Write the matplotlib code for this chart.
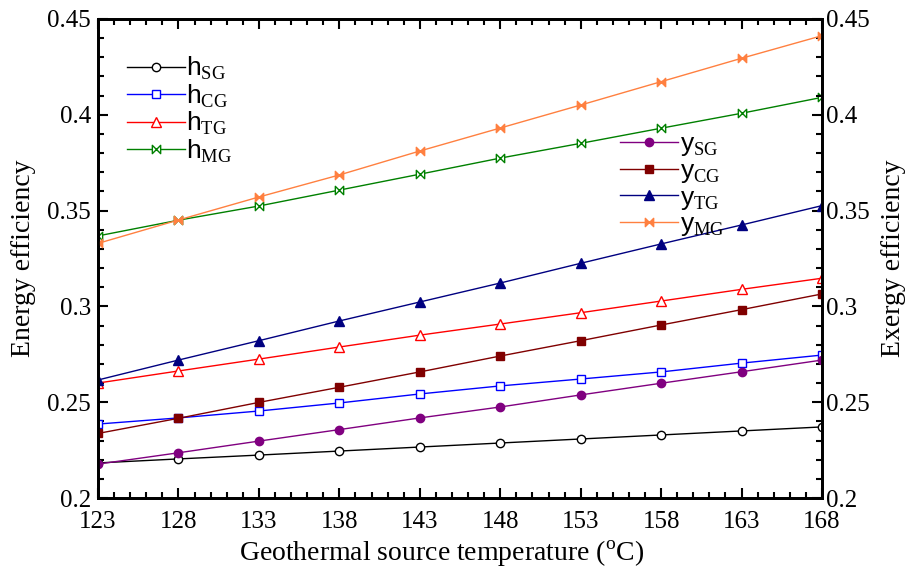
import matplotlib.pyplot as plt
import numpy as np
from matplotlib.path import Path
from matplotlib.ticker import MultipleLocator, FixedLocator

plt.rcParams['font.family'] = 'Liberation Serif'
plt.rcParams['mathtext.fontset'] = 'custom'
plt.rcParams['mathtext.rm'] = 'Liberation Serif'
plt.rcParams['mathtext.sf'] = 'Liberation Sans'

temps = [123, 128, 133, 138, 143, 148, 153, 158, 163, 168]

# energy efficiency per cycle
eta_sg = [0.2183, 0.2204, 0.2224, 0.2245, 0.2266, 0.2287, 0.2308, 0.2329, 0.2350, 0.2371]
eta_cg = [0.2386, 0.2418, 0.2454, 0.2496, 0.2543, 0.2585, 0.2621, 0.2658, 0.2704, 0.2746]
eta_tg = [0.2600, 0.2663, 0.2725, 0.2788, 0.2850, 0.2908, 0.2967, 0.3028, 0.3089, 0.3147]
eta_mg = [0.3368, 0.3450, 0.3524, 0.3607, 0.3690, 0.3774, 0.3851, 0.3930, 0.4008, 0.4091]

# exergy efficiency per cycle
psi_sg = [0.2177, 0.2236, 0.2297, 0.2357, 0.2418, 0.2475, 0.2538, 0.2599, 0.2659, 0.2720]
psi_cg = [0.2337, 0.2416, 0.2499, 0.2578, 0.2658, 0.2741, 0.2821, 0.2903, 0.2983, 0.3065]
psi_tg = [0.2616, 0.2720, 0.2821, 0.2924, 0.3023, 0.3122, 0.3225, 0.3326, 0.3425, 0.3526]
psi_mg = [0.3329, 0.3451, 0.3571, 0.3686, 0.3811, 0.3931, 0.4051, 0.4173, 0.4295, 0.4413]

yticks = [0.2, 0.25, 0.3, 0.35, 0.4, 0.45]
ytick_labels = ['0.2', '0.25', '0.3', '0.35', '0.4', '0.45']

# bowtie marker: two triangles meeting at the centre
bowtie = Path([(-1, -1), (0, 0), (-1, 1), (-1, -1), (1, -1), (0, 0), (1, 1), (1, -1)],
              [Path.MOVETO, Path.LINETO, Path.LINETO, Path.CLOSEPOLY,
               Path.MOVETO, Path.LINETO, Path.LINETO, Path.CLOSEPOLY])

fig = plt.figure(figsize=(9.06, 5.74), dpi=100)
ax = fig.add_axes([0.1082, 0.1324, 0.7991, 0.8345])
ax2 = ax.twinx()

lw = 1.0
ms = 6
ax.plot(temps, eta_sg, color='black', lw=lw, marker='o', ms=ms, mfc='white', mec='black', label=r'$\mathsf{h}_{\mathrm{SG}}$')
ax.plot(temps, eta_cg, color='#0000ff', lw=lw, marker='s', ms=ms, mfc='white', label=r'$\mathsf{h}_{\mathrm{CG}}$')
ax.plot(temps, eta_tg, color='#ff0000', lw=lw, marker='^', ms=ms + 1, mfc='white', label=r'$\mathsf{h}_{\mathrm{TG}}$')
ax.plot(temps, eta_mg, color='#008000', lw=lw, marker=bowtie, ms=ms, mfc='white', label=r'$\mathsf{h}_{\mathrm{MG}}$')

ax2.plot(temps, psi_sg, color='#800080', lw=lw, marker='o', ms=ms, label=r'$\mathsf{y}_{\mathrm{SG}}$')
ax2.plot(temps, psi_cg, color='#800000', lw=lw, marker='s', ms=ms, label=r'$\mathsf{y}_{\mathrm{CG}}$')
ax2.plot(temps, psi_tg, color='#000080', lw=lw, marker='^', ms=ms + 1, label=r'$\mathsf{y}_{\mathrm{TG}}$')
ax2.plot(temps, psi_mg, color='#ff8040', lw=lw, marker=bowtie, ms=ms, label=r'$\mathsf{y}_{\mathrm{MG}}$')

for a in (ax, ax2):
    a.set_xlim(123, 168)
    a.set_ylim(0.2, 0.45)
    a.yaxis.set_minor_locator(MultipleLocator(0.01))
    a.set_yticks(yticks)
    a.set_yticklabels(ytick_labels)
    a.tick_params(which='both', direction='in', labelsize=18, width=1.5)
    a.tick_params(which='major', length=7)
    a.tick_params(which='minor', length=4)
    for s in a.spines.values():
        s.set_linewidth(2)

ax.xaxis.set_major_locator(FixedLocator(temps))
ax.xaxis.set_minor_locator(MultipleLocator(1))
ax.tick_params(which='both', top=True)
ax.tick_params(axis='x', pad=9)
ax.tick_params(axis='y', pad=5)
ax2.tick_params(axis='y', pad=3)

ax.set_xlabel(r'Geothermal source temperature ($^{\mathrm{o}}$C)', fontsize=20, labelpad=1)
ax.xaxis.set_label_coords(0.474, -0.085)
ax.set_ylabel('Energy efficiency', fontsize=20, labelpad=8)
ax2.set_ylabel('Exergy efficiency', fontsize=20, labelpad=8)

ax.legend(loc='upper left', bbox_to_anchor=(0.025, 0.947), frameon=False, fontsize=19,
          handlelength=2.2, handletextpad=0.05, labelspacing=0.0, borderaxespad=0)
ax2.legend(loc='upper left', bbox_to_anchor=(0.707, 0.785), frameon=False, fontsize=19,
           handlelength=2.2, handletextpad=0.05, labelspacing=0.05, borderaxespad=0)

fig.savefig('out.png', dpi=100)
